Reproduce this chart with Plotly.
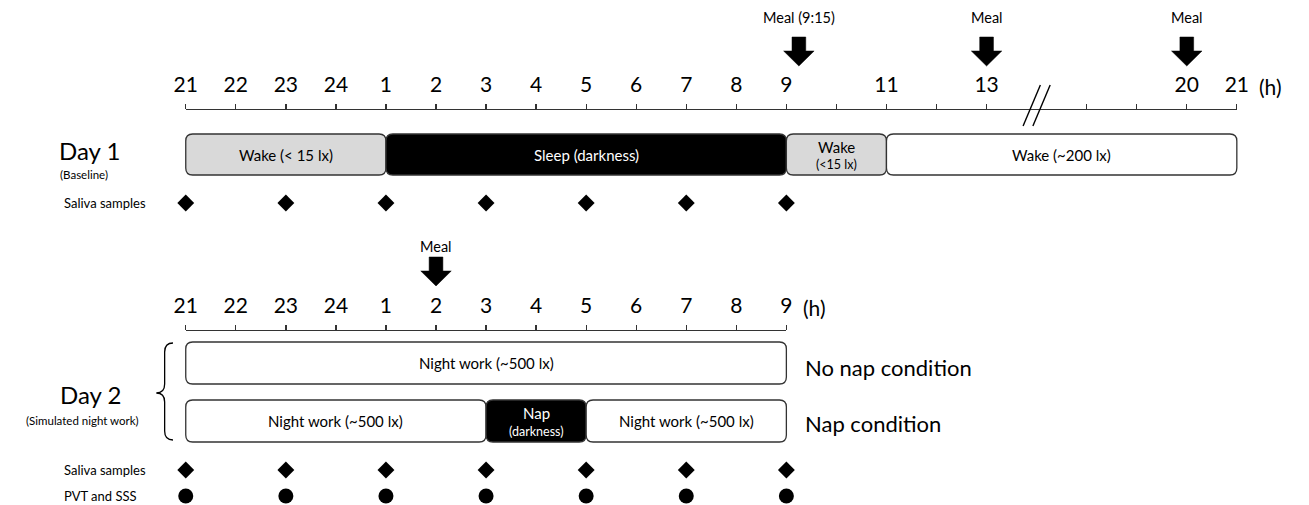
import plotly.graph_objects as go

# ---------------- data ----------------
day1_tick_pos = [0, 1, 2, 3, 4, 5, 6, 7, 8, 9, 10, 11, 12, 13, 14, 15, 16, 18, 19, 20, 21]
day1_tick_labels = ["21", "22", "23", "24", "1", "2", "3", "4", "5", "6", "7", "8", "9",
                    "", "11", "", "13", "", "", "20", "21"]
day1_break_pos = [17]

day2_tick_pos = [0, 1, 2, 3, 4, 5, 6, 7, 8, 9, 10, 11, 12]
day2_tick_labels = ["21", "22", "23", "24", "1", "2", "3", "4", "5", "6", "7", "8", "9"]

day1_seg_start = [0, 4, 12, 14]
day1_seg_end = [4, 12, 14, 21]
day1_seg_label = ["Wake (< 15 lx)", "Sleep (darkness)", "Wake", "Wake (~200 lx)"]
day1_seg_sub = ["", "", "(<15 lx)", ""]
day1_seg_fill = ["#d9d9d9", "#000000", "#d9d9d9", "#ffffff"]

nonap_seg_start = [0]
nonap_seg_end = [12]
nonap_seg_label = ["Night work (~500 lx)"]
nonap_seg_sub = [""]
nonap_seg_fill = ["#ffffff"]

nap_seg_start = [0, 6, 8]
nap_seg_end = [6, 8, 12]
nap_seg_label = ["Night work (~500 lx)", "Nap", "Night work (~500 lx)"]
nap_seg_sub = ["", "(darkness)", ""]
nap_seg_fill = ["#ffffff", "#000000", "#ffffff"]

day1_saliva = [0, 2, 4, 6, 8, 10, 12]
day2_saliva = [0, 2, 4, 6, 8, 10, 12]
day2_pvt = [0, 2, 4, 6, 8, 10, 12]

day1_meal_pos = [12.25, 16, 20]
day1_meal_labels = ["Meal (9:15)", "Meal", "Meal"]
day2_meal_pos = [5]
day2_meal_labels = ["Meal"]

# ---------------- layout constants (pixels) ----------------
W, H = 1309, 505
X0_PX = 177.0          # pixel of first hour tick
PX_PER_H = 50.986      # pixels per hour step
FONT = "Lato"
EDGE = "#333333"

ROW_AX1 = 110
ROW_BAR1 = (134, 175)
ROW_SAL1 = 203
ROW_AX2 = 331
ROW_BAR_NONAP = (342, 384)
ROW_BAR_NAP = (400, 442)
ROW_SAL2 = 470
ROW_PVT2 = 496


def px_x(px):
    return px / W


def px_y(py):
    return 1 - py / H


fig = go.Figure()

n1 = 21
n2 = 12
fig.update_layout(
    width=W, height=H, margin=dict(l=0, r=0, t=0, b=0),
    paper_bgcolor="white", plot_bgcolor="rgba(0,0,0,0)", showlegend=False,
    font=dict(family=FONT, color="black"),
    xaxis=dict(domain=[px_x(X0_PX), px_x(X0_PX + n1 * PX_PER_H)], range=[0, n1],
               anchor="y", side="top", showline=True, linecolor=EDGE, linewidth=1.3,
               ticks="outside", ticklen=5, tickwidth=1.3, tickcolor=EDGE,
               tickmode="array", tickvals=day1_tick_pos, ticktext=day1_tick_labels,
               tickfont=dict(size=21, family=FONT, color="black"),
               showgrid=False, zeroline=False, ticklabelstandoff=3),
    yaxis=dict(domain=[px_y(ROW_AX1) - 0.05, px_y(ROW_AX1)], visible=False, range=[0, 1]),
    xaxis2=dict(domain=[px_x(X0_PX), px_x(X0_PX + n2 * PX_PER_H)], range=[0, n2],
                anchor="y2", side="top", showline=True, linecolor=EDGE, linewidth=1.3,
                ticks="outside", ticklen=5, tickwidth=1.3, tickcolor=EDGE,
                tickmode="array", tickvals=day2_tick_pos, ticktext=day2_tick_labels,
                tickfont=dict(size=21, family=FONT, color="black"),
                showgrid=False, zeroline=False, ticklabelstandoff=3),
    yaxis2=dict(domain=[px_y(ROW_AX2) - 0.05, px_y(ROW_AX2)], visible=False, range=[0, 1]),
    xaxis3=dict(domain=[0, 1], range=[-X0_PX / PX_PER_H, (W - X0_PX) / PX_PER_H],
                anchor="y3", visible=False, fixedrange=True),
    yaxis3=dict(domain=[0, 1], range=[H, 0], anchor="x3", visible=False, fixedrange=True),
)

fig.add_trace(go.Scatter(x=[0], y=[0], xaxis="x", yaxis="y", mode="markers",
                         marker=dict(opacity=0), hoverinfo="skip"))
fig.add_trace(go.Scatter(x=[0], y=[0], xaxis="x2", yaxis="y2", mode="markers",
                         marker=dict(opacity=0), hoverinfo="skip"))

shapes = []
annotations = []


def rrect(x0, x1, y0, y1, r=7):
    rx = r / PX_PER_H
    ry = r
    return (f"M{x0+rx},{y0} L{x1-rx},{y0} Q{x1},{y0} {x1},{y0+ry} "
            f"L{x1},{y1-ry} Q{x1},{y1} {x1-rx},{y1} L{x0+rx},{y1} "
            f"Q{x0},{y1} {x0},{y1-ry} L{x0},{y0+ry} Q{x0},{y0} {x0+rx},{y0} Z")


def add_segments(starts, ends, labels, subs, fills, row):
    y0, y1 = row
    yc = (y0 + y1) / 2
    for s, e, lab, sub, fc in zip(starts, ends, labels, subs, fills):
        shapes.append(dict(type="path", xref="x3", yref="y3", path=rrect(s, e, y0, y1),
                           fillcolor=fc, line=dict(color=EDGE, width=1.3), layer="below"))
        tc = "white" if fc == "#000000" else "black"
        if sub:
            annotations.append(dict(x=(s + e) / 2, y=yc - 8, xref="x3", yref="y3", text=lab,
                                    showarrow=False, font=dict(size=15, color=tc, family=FONT)))
            annotations.append(dict(x=(s + e) / 2, y=yc + 10, xref="x3", yref="y3", text=sub,
                                    showarrow=False, font=dict(size=12.5, color=tc, family=FONT)))
        else:
            annotations.append(dict(x=(s + e) / 2, y=yc, xref="x3", yref="y3", text=lab,
                                    showarrow=False, font=dict(size=15, color=tc, family=FONT)))


add_segments(day1_seg_start, day1_seg_end, day1_seg_label, day1_seg_sub, day1_seg_fill, ROW_BAR1)
add_segments(nonap_seg_start, nonap_seg_end, nonap_seg_label, nonap_seg_sub, nonap_seg_fill, ROW_BAR_NONAP)
add_segments(nap_seg_start, nap_seg_end, nap_seg_label, nap_seg_sub, nap_seg_fill, ROW_BAR_NAP)


def add_meals(positions, labels, top, label_row):
    bw = 7 / PX_PER_H
    hw = 15.5 / PX_PER_H
    sh = top + 14
    tip = top + 29
    for x, lab in zip(positions, labels):
        path = (f"M{x-bw},{top} L{x+bw},{top} L{x+bw},{sh} L{x+hw},{sh} "
                f"L{x},{tip} L{x-hw},{sh} L{x-bw},{sh} Z")
        shapes.append(dict(type="path", xref="x3", yref="y3", path=path,
                           fillcolor="black", line=dict(color="black", width=0.5)))
        annotations.append(dict(x=x, y=label_row, xref="x3", yref="y3", text=lab,
                                showarrow=False, font=dict(size=14.5, family=FONT, color="black")))


add_meals(day1_meal_pos, day1_meal_labels, 37, 17)
add_meals(day2_meal_pos, day2_meal_labels, 257, 246)

for b in day1_break_pos:
    for off in (-5, 5):
        dx = off / PX_PER_H
        shapes.append(dict(type="line", xref="x3", yref="y3",
                           x0=b + dx - 8.8 / PX_PER_H, y0=126, x1=b + dx + 8.8 / PX_PER_H, y1=85,
                           line=dict(color="black", width=1.4)))

fig.add_trace(go.Scatter(x=day1_saliva, y=[ROW_SAL1] * len(day1_saliva), xaxis="x3", yaxis="y3",
                         mode="markers", marker=dict(symbol="diamond", size=13, color="black"),
                         name="Saliva samples (Day 1)"))
fig.add_trace(go.Scatter(x=day2_saliva, y=[ROW_SAL2] * len(day2_saliva), xaxis="x3", yaxis="y3",
                         mode="markers", marker=dict(symbol="diamond", size=13, color="black"),
                         name="Saliva samples (Day 2)"))
fig.add_trace(go.Scatter(x=day2_pvt, y=[ROW_PVT2] * len(day2_pvt), xaxis="x3", yaxis="y3",
                         mode="markers", marker=dict(symbol="circle", size=15, color="black"),
                         name="PVT and SSS"))

bx_tip, bx_mid, bx_end = px_x(147), px_x(155.5), px_x(164)
yt, yb, ym = px_y(343), px_y(440), px_y(393)
c = 9 / H
brace = (f"M{bx_end},{yt} Q{bx_mid},{yt} {bx_mid},{yt - c} L{bx_mid},{ym + c} "
         f"Q{bx_mid},{ym} {bx_tip},{ym} Q{bx_mid},{ym} {bx_mid},{ym - c} "
         f"L{bx_mid},{yb + c} Q{bx_mid},{yb} {bx_end},{yb}")
shapes.append(dict(type="path", xref="paper", yref="paper", path=brace,
                   line=dict(color="black", width=1.3)))


def txt(x, y, s, size, xanchor="left"):
    annotations.append(dict(x=px_x(x), y=px_y(y), xref="paper", yref="paper", text=s,
                            showarrow=False, xanchor=xanchor, yanchor="middle",
                            font=dict(size=size, family=FONT, color="black")))


txt(46, 150, "Day 1", 24)
txt(47, 174, "(Baseline)", 11.5)
txt(51, 203, "Saliva samples", 13)
txt(47, 394, "Day 2", 24)
txt(72, 420, "(Simulated night work)", 11.5, xanchor="center")
txt(51, 470, "Saliva samples", 13)
txt(51, 496, "PVT and SSS", 13)
txt(806, 367, "No nap condition", 22)
txt(806, 423, "Nap condition", 22)
txt(1268, 87, "(h)", 21)
txt(804, 307, "(h)", 21)

fig.update_layout(shapes=shapes, annotations=annotations)
fig.write_html("out.html",
               config={"displayModeBar": False, "staticPlot": True},
               post_script="document.body.style.margin='0';document.body.style.overflow='hidden';")
